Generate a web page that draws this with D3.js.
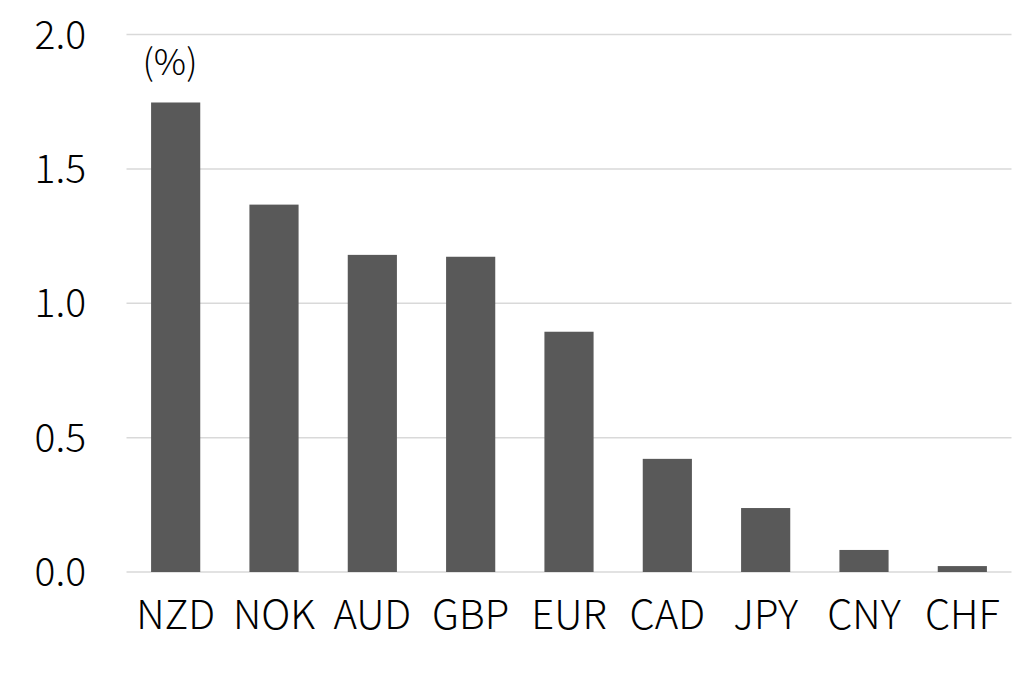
<!DOCTYPE html>
<html><head><meta charset="utf-8">
<script src="https://cdn.jsdelivr.net/npm/d3@7"></script>
<style>body{margin:0;background:#fff}svg{display:block}</style>
</head><body>
<script>
const categories = ["NZD","NOK","AUD","GBP","EUR","CAD","JPY","CNY","CHF"];
const values = [1.747,1.367,1.18,1.173,0.894,0.421,0.238,0.082,0.022];
const yTicks = [0,0.5,1.0,1.5,2.0];
const unitLabel = "(%)";

const W=1022,H=688;
const m={left:126.5,right:10.5,top:34.5,bottom:116};
const font='"Noto Sans CJK JP","Noto Sans",sans-serif';
const svg=d3.select("body").append("svg").attr("width",W).attr("height",H);
const x=d3.scaleBand().domain(categories).range([m.left,W-m.right]).paddingInner(0.5).paddingOuter(0.25);
const y=d3.scaleLinear().domain([0,2]).range([H-m.bottom,m.top]);

svg.append("g").selectAll("line").data(yTicks).join("line")
  .attr("x1",m.left).attr("x2",W-m.right)
  .attr("y1",d=>y(d)).attr("y2",d=>y(d))
  .attr("stroke","#d9d9d9").attr("stroke-width",1.5);

svg.append("g").selectAll("rect").data(values).join("rect")
  .attr("x",(d,i)=>x(categories[i])).attr("width",x.bandwidth())
  .attr("y",d=>y(d)).attr("height",d=>y(0)-y(d))
  .attr("fill","#595959");

svg.append("g").selectAll("text").data(yTicks).join("text")
  .attr("x",86).attr("y",d=>y(d)).attr("dy","0.36em")
  .attr("text-anchor","end").attr("font-family",font).attr("font-size",39).attr("font-weight",300)
  .attr("fill","#000").text(d=>d.toFixed(1));

svg.append("g").selectAll("text").data(categories).join("text")
  .attr("x",d=>x(d)+x.bandwidth()/2).attr("y",629)
  .attr("text-anchor","middle").attr("font-family",font).attr("font-size",40).attr("font-weight",300)
  .attr("fill","#000").text(d=>d);

svg.append("text").attr("x",170).attr("y",75).attr("text-anchor","middle")
  .attr("font-family",font).attr("font-size",36).attr("font-weight",300).attr("fill","#000").text(unitLabel);
</script>
</body></html>
